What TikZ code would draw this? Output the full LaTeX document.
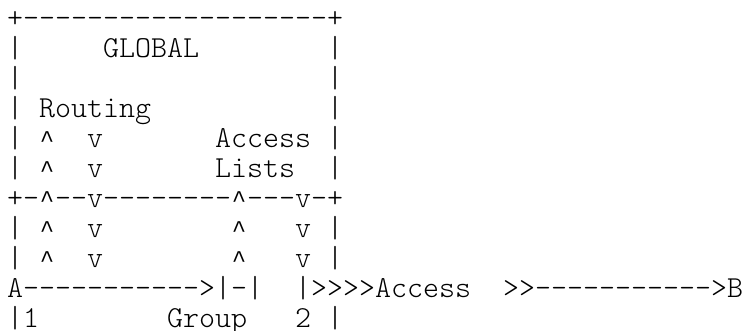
\documentclass[tikz,border=0pt]{standalone}
\usepackage{fontspec}
\newfontfamily\asclight{Latin Modern Mono Light}
\newfontfamily\asccaretfont{Liberation Mono}
\newcommand\asccaret{\makebox[16pt]{\asccaretfont\fontsize{24}{30}\selectfont\textasciicircum}}
\tikzset{
  asc/.style={anchor=base west, inner sep=0pt, outer sep=0pt,
    font=\asclight\fontsize{30.48}{30}\selectfont, text=black}
}
\begin{document}
\begin{tikzpicture}[x=1pt,y=1pt]
\fill[white] (0,0) rectangle (744,-330);
\useasboundingbox (0,0) rectangle (744,-330);
\node[asc] (l1)  at (7,-27)  {+-------------------+};
\node[asc] (l2)  at (7,-57)  {|~~~~~GLOBAL~~~~~~~~|};
\node[asc] (l3)  at (7,-87)  {|~~~~~~~~~~~~~~~~~~~|};
\node[asc] (l4)  at (7,-117) {|~Routing~~~~~~~~~~~|};
\node[asc] (l5)  at (7,-147) {|~\asccaret~~v~~~~~~~Access~|};
\node[asc] (l6)  at (7,-177) {|~\asccaret~~v~~~~~~~Lists~~|};
\node[asc] (l7)  at (7,-207) {+-\asccaret--v--------\asccaret---v-+};
\node[asc] (l8)  at (7,-237) {|~\asccaret~~v~~~~~~~~\asccaret~~~v~|};
\node[asc] (l9)  at (7,-267) {|~\asccaret~~v~~~~~~~~\asccaret~~~v~|};
\node[asc] (l10) at (7,-297) {A----------->|-|~~|>>>>Access~~>>----------->B};
\node[asc] (l11) at (7,-327) {|1~~~~~~~~Group~~~2~|};
\end{tikzpicture}
\end{document}
